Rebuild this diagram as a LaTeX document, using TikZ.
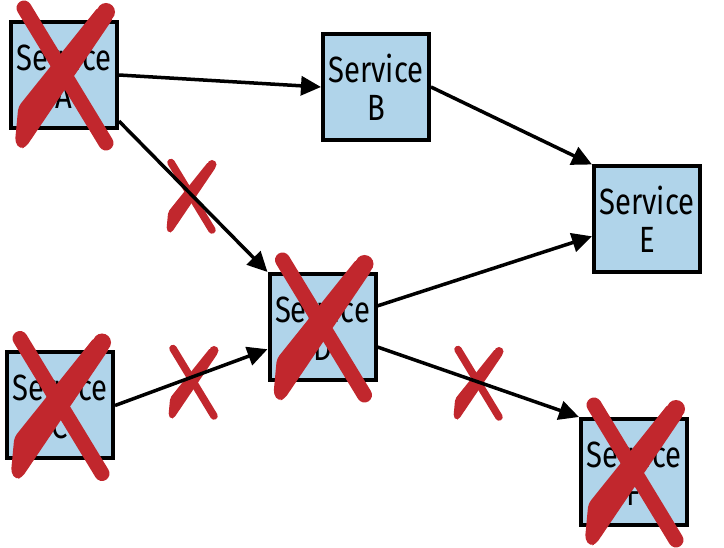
\documentclass[tikz,border=0pt]{standalone}
\usepackage{fontspec}
\setmainfont[FakeStretch=0.8]{Fira Sans}
\usetikzlibrary{arrows.meta}
\definecolor{boxblue}{RGB}{176,212,234}
\definecolor{xred}{RGB}{193,39,45}
\tikzset{
  svc/.style={draw=black, line width=4pt, fill=boxblue, minimum width=106pt, minimum height=106pt,
    inner sep=0pt, align=center, font=\fontsize{36.5}{38}\selectfont},
  flow/.style={line width=3.5pt, -{Triangle[length=20pt,width=19pt]}},
  pics/xmark/.style={code={
    \draw[xred, line width=#1*15pt, line cap=round] ({-40*#1},{-67*#1}) -- ({42*#1},{68*#1});
    \begin{scope}[scale=#1]
      \fill[xred, rounded corners=#1*4pt] (-45.7,31.7) -- (34.7,-68.6) -- (50,-58) -- (-38,72)
         -- (-44,74) -- (-49,67) -- cycle;
      \fill[xred] (42,-63) circle[radius=9];
    \end{scope}
  }}
}
\begin{document}
\begin{tikzpicture}[x=1pt,y=-1pt]
\useasboundingbox (0,0) rectangle (724,548);
\node[svc] (A) at (64,75) {Service\\A};
\node[svc] (B) at (376,87) {Service\\B};
\node[svc] (C) at (60,405.5) {Service\\C};
\node[svc] (D) at (322.5,327) {Service\\D};
\node[svc] (E) at (647,219.5) {Service\\E};
\node[svc] (F) at (634,472) {Service\\F};
\pic at (191,196) {xmark=0.5};
\pic at (193,382) {xmark=0.5};
\pic at (478,383) {xmark=0.5};
\draw[flow] (A.east) -- (B.west);
\draw[flow] (B.east) -- (E.north west);
\draw[flow] (A.-40.5) -- (D.north west);
\draw[flow] (D.21.6) -- (E.197.6);
\draw[flow] (C.east) -- (D.202.5);
\draw[flow] (D.-20.7) -- (F.north west);
\pic at (64,75) {xmark=1};
\pic at (322.5,327) {xmark=1};
\pic at (60,405.5) {xmark=1};
\pic at (634,472) {xmark=1};
\end{tikzpicture}
\end{document}
